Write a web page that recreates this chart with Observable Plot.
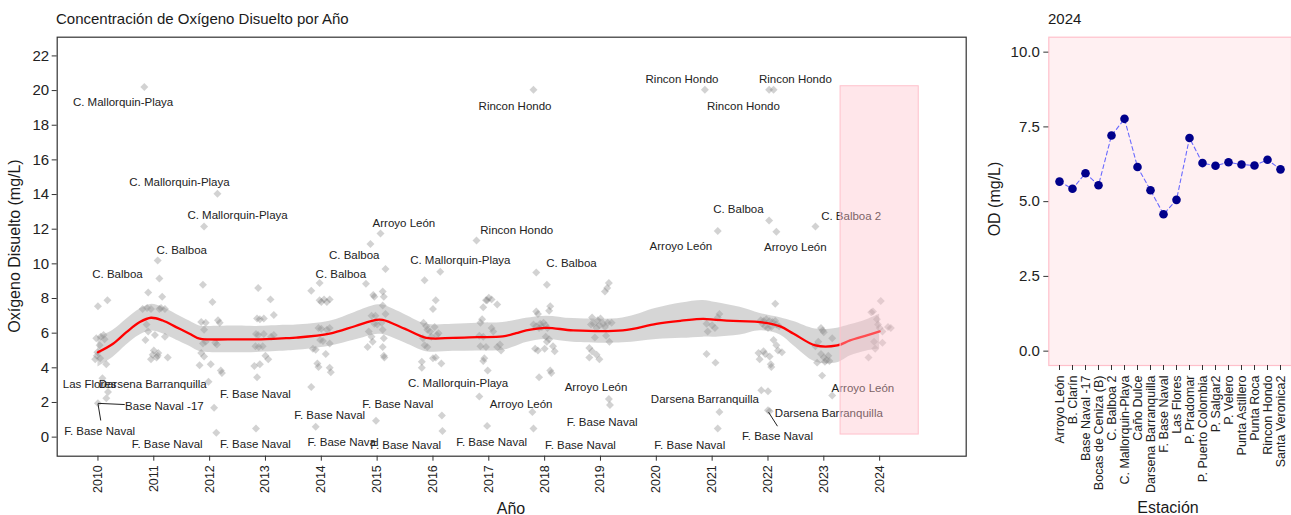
<!DOCTYPE html>
<html><head><meta charset="utf-8">
<script src="https://cdn.jsdelivr.net/npm/d3@7"></script>
<script src="https://cdn.jsdelivr.net/npm/@observablehq/plot@0.6"></script>
<style>
html,body{margin:0;padding:0;background:#fff;overflow:hidden;}
#wrap{position:relative;width:1291px;height:515px;}
#wrap svg{position:absolute;top:0;}
</style></head><body><div id="wrap"></div>
<script>
// ---------- Left panel data: jittered observations [year+jitter, OD] ----------
const p2010 = [[2010.0,7.55],[2010.17,7.9],[2009.97,5.7],[2010.05,5.8],[2010.1,5.9],[2010.12,5.65],[2009.98,4.7],[2009.95,4.5],[2010.04,4.55],[2010.03,5.3],[2010.15,4.2],[2010.08,3.4],[2010.12,3.05],[2010.18,2.6],[2010.15,2.25],[2009.99,4.9],[2010.0,1.95]];
const p2011 = [[2010.83,20.2],[2011.07,10.2],[2011.1,9.15],[2010.9,8.35],[2011.15,8.1],[2010.8,7.4],[2010.88,7.45],[2010.95,7.4],[2011.1,7.4],[2011.13,7.45],[2011.2,7.4],[2010.87,6.5],[2010.9,6.1],[2011.02,5.9],[2011.2,5.8],[2010.85,5.6],[2011.0,5.0],[2010.98,4.75],[2011.05,4.6],[2011.08,4.85],[2011.25,4.6],[2010.95,4.5],[2011.07,4.7]];
const p2012 = [[2012.14,14.05],[2011.9,12.15],[2011.88,8.8],[2012.05,7.8],[2011.85,6.65],[2011.93,6.6],[2012.15,6.75],[2012.18,6.6],[2011.9,6.2],[2011.93,5.5],[2012.1,5.45],[2012.13,5.35],[2011.88,5.4],[2011.85,4.85],[2011.9,4.65],[2012.02,4.2],[2011.82,4.15],[2012.2,3.85],[2012.22,3.7],[2011.98,3.2],[2012.08,1.7],[2012.12,0.25]];
const p2013 = [[2012.87,8.6],[2013.09,7.95],[2012.85,6.85],[2012.9,6.8],[2012.97,6.85],[2013.15,7.05],[2012.83,5.95],[2012.87,5.9],[2012.97,5.95],[2013.15,5.9],[2013.1,5.8],[2012.82,5.25],[2012.88,5.2],[2012.95,5.25],[2013.0,4.7],[2013.05,4.5],[2012.8,4.1],[2012.9,4.2],[2012.85,3.45],[2012.83,0.5]];
const p2014 = [[2013.82,8.45],[2013.97,8.9],[2013.97,7.9],[2014.0,7.8],[2014.05,7.95],[2014.15,7.95],[2014.1,7.8],[2013.95,6.3],[2014.0,6.25],[2014.1,6.2],[2014.15,6.3],[2013.98,5.6],[2014.03,5.55],[2014.15,5.4],[2013.85,5.1],[2013.9,5.05],[2014.08,4.8],[2013.93,4.25],[2013.95,4.05],[2014.15,4.0],[2014.17,3.75],[2013.82,2.9],[2013.9,0.6]];
const p2015 = [[2014.88,11.15],[2015.06,11.75],[2015.15,9.7],[2014.8,8.85],[2014.93,8.2],[2014.95,8.1],[2015.1,8.4],[2015.12,8.1],[2015.1,7.6],[2014.9,7.0],[2014.97,7.0],[2015.15,7.1],[2014.95,6.55],[2015.0,6.5],[2015.08,6.6],[2014.85,6.1],[2014.9,5.8],[2015.1,6.2],[2015.12,5.7],[2014.83,5.2],[2014.92,5.5],[2015.1,5.2],[2015.12,4.7],[2015.13,4.6],[2014.98,0.95]];
const p2016 = [[2016.13,9.55],[2015.85,9.05],[2016.05,7.9],[2016.0,7.4],[2015.83,6.6],[2015.88,6.4],[2015.9,6.2],[2015.95,6.1],[2016.03,6.35],[2016.1,6.0],[2016.07,5.9],[2015.97,5.8],[2015.82,5.7],[2015.85,5.3],[2015.9,5.2],[2016.05,4.6],[2016.0,4.55],[2015.8,4.35],[2015.8,4.0],[2016.15,4.25],[2016.16,1.25],[2016.17,0.35]];
const p2017 = [[2016.78,11.35],[2016.9,7.5],[2016.97,7.9],[2017.0,8.05],[2017.05,7.95],[2017.15,7.65],[2016.95,7.9],[2016.85,6.6],[2016.88,6.8],[2017.05,6.3],[2017.08,6.1],[2016.83,5.85],[2016.9,5.8],[2016.85,5.25],[2016.95,5.2],[2017.15,5.2],[2017.2,5.35],[2017.22,5.0],[2016.92,4.55],[2016.9,4.4],[2016.98,3.85],[2016.83,2.35],[2016.97,0.65]];
const p2018 = [[2017.8,20.05],[2017.85,9.5],[2018.04,8.8],[2018.1,7.55],[2018.08,7.3],[2017.85,7.25],[2017.88,7.1],[2017.8,6.5],[2017.85,6.4],[2017.92,6.55],[2017.98,6.6],[2018.02,6.45],[2018.05,6.3],[2017.9,6.3],[2017.95,6.35],[2018.02,5.8],[2018.08,5.65],[2018.04,5.5],[2017.83,5.1],[2017.88,5.0],[2018.0,5.1],[2018.15,5.25],[2018.18,4.95],[2018.1,3.85],[2018.12,3.7],[2017.9,3.45],[2017.78,1.45],[2017.8,0.5]];
const p2019 = [[2019.15,8.9],[2019.12,8.6],[2019.08,8.4],[2018.85,6.9],[2019.0,6.85],[2018.95,6.75],[2018.88,6.55],[2018.98,6.45],[2019.05,6.55],[2019.13,6.6],[2019.2,6.6],[2019.08,6.35],[2018.93,6.3],[2018.83,6.5],[2018.9,5.75],[2019.1,5.85],[2019.16,5.5],[2018.8,5.15],[2018.85,4.95],[2018.93,4.75],[2018.8,4.6],[2018.98,4.5],[2019.15,2.2],[2019.17,1.85]];
const p2021 = [[2020.87,20.05],[2021.1,11.9],[2021.13,7.1],[2021.1,6.9],[2020.9,6.55],[2021.0,6.45],[2020.92,6.1],[2021.05,6.3],[2020.9,4.8],[2021.06,4.3],[2021.13,1.45],[2021.1,0.5]];
const p2022 = [[2022.02,20.05],[2022.1,20.05],[2022.02,12.5],[2022.15,11.85],[2022.13,7.7],[2021.87,6.75],[2021.92,6.7],[2021.97,6.8],[2022.03,6.7],[2022.08,6.65],[2022.13,6.7],[2021.95,6.4],[2022.0,6.3],[2022.06,6.35],[2022.15,6.5],[2021.9,6.55],[2022.2,6.4],[2022.1,5.6],[2022.15,5.3],[2021.92,4.95],[2021.95,4.8],[2022.03,4.65],[2022.18,5.0],[2022.25,4.9],[2021.85,4.5],[2021.83,4.85],[2022.05,4.2],[2022.06,4.05],[2021.88,2.7],[2022.0,2.65],[2022.0,1.55],[2022.03,1.5]];
const p2023 = [[2022.85,12.15],[2022.95,6.3],[2022.98,6.15],[2023.0,6.05],[2022.85,5.25],[2022.9,5.5],[2023.15,5.7],[2022.95,4.8],[2023.0,4.6],[2023.05,4.45],[2023.1,4.4],[2022.88,4.3],[2023.02,4.35],[2022.97,3.55],[2023.15,2.4],[2023.08,4.7]];
const p2024 = [[2024.02,7.85],[2023.85,7.2],[2023.88,7.25],[2023.95,6.8],[2023.97,6.5],[2024.15,6.35],[2024.2,6.3],[2024.05,6.1],[2023.9,5.5],[2024.05,5.45],[2023.92,5.1],[2023.8,4.6],[2024.0,6.3]];

// ---------- Smooth (loess) fit with confidence band ----------
const smoothX   = [2010.0,2010.27,2010.51,2010.75,2010.95,2011.16,2011.4,2011.64,2011.82,2011.97,2012.5,2012.84,2013.37,2013.55,2014.15,2014.6,2014.98,2015.1,2015.5,2015.88,2016.36,2016.8,2017.25,2017.49,2017.67,2018.03,2018.51,2019.4,2020.0,2020.45,2020.84,2021.07,2021.5,2021.86,2022.22,2022.46,2022.85,2023.24,2023.47,2023.77,2024.0];
const smoothFit = [4.90,5.39,6.06,6.64,6.89,6.73,6.35,5.97,5.68,5.64,5.64,5.64,5.71,5.74,5.97,6.40,6.77,6.77,6.25,5.73,5.73,5.77,5.81,6.00,6.16,6.31,6.16,6.16,6.54,6.72,6.83,6.77,6.69,6.64,6.39,5.97,5.29,5.29,5.58,5.87,6.10];
const smoothLo  = [4.05,4.61,5.32,5.89,6.12,5.97,5.61,5.24,4.94,4.89,4.87,4.89,4.97,5.01,5.25,5.60,5.92,5.92,5.43,4.93,4.95,4.97,5.01,5.25,5.46,5.64,5.48,5.44,5.64,5.70,5.77,5.77,5.89,6.14,5.89,5.27,4.34,4.29,4.68,4.97,5.10];
const smoothHi  = [5.75,6.17,6.80,7.39,7.66,7.49,7.09,6.70,6.42,6.39,6.41,6.39,6.45,6.47,6.69,7.20,7.62,7.62,7.07,6.53,6.51,6.57,6.61,6.75,6.86,6.98,6.84,6.88,7.44,7.74,7.89,7.77,7.49,7.14,6.89,6.67,6.24,6.29,6.48,6.77,7.10];

// ---------- Station labels (ggrepel) ----------
const labelText = ["C. Mallorquin-Playa","C. Mallorquin-Playa","C. Mallorquin-Playa","C. Balboa","C. Balboa","Arroyo León","C. Balboa","C. Balboa","C. Mallorquin-Playa","Rincon Hondo","Rincon Hondo","C. Balboa","Rincon Hondo","Rincon Hondo","Rincon Hondo","C. Balboa","C. Balboa 2","Arroyo León","Arroyo León","Las Flores","Darsena Barranquilla","Base Naval -17","F. Base Naval","F. Base Naval","F. Base Naval","F. Base Naval","F. Base Naval","F. Base Naval","F. Base Naval","F. Base Naval","C. Mallorquin-Playa","F. Base Naval","Arroyo León","F. Base Naval","Arroyo León","F. Base Naval","Darsena Barranquilla","F. Base Naval","Darsena Barranquilla","F. Base Naval","Arroyo León"];
const labelX = [2010.45,2011.46,2012.5,2011.5,2010.35,2015.48,2014.59,2014.35,2016.49,2017.47,2017.5,2018.48,2020.46,2022.49,2021.56,2021.47,2023.49,2020.44,2022.49,2009.85,2010.98,2011.19,2010.03,2011.24,2012.82,2012.82,2014.15,2014.39,2015.37,2015.51,2016.45,2017.05,2017.58,2018.64,2018.92,2019.03,2020.87,2020.6,2023.09,2022.17,2023.7];
const labelY = [19.33,14.71,12.79,10.81,9.37,12.35,10.48,9.37,10.2,19.12,11.93,10.04,20.66,20.66,19.12,13.12,12.73,11.02,10.96,3.04,3.04,1.79,0.35,-0.44,2.5,-0.44,1.25,-0.29,1.89,-0.48,3.12,-0.29,1.89,-0.48,2.85,0.83,2.21,-0.48,1.39,0.06,2.8];
// repel segments
const segX1 = [2010.0,2010.0,2022.01], segY1 = [1.95,1.93,1.44];
const segX2 = [2010.48,2010.05,2022.17], segY2 = [1.88,0.96,0.63];

const xTicks = d3.range(2010, 2025);
const yTicks = d3.range(0, 23, 2);
const highlight = {x1: 2023.3, x2: 2024.7, y1: 0.15, y2: 20.25};

// ---------- Right panel (2024 by station) ----------
const stations = ["Arroyo León","B. Clarín","Base Naval -17","Bocas de Ceniza (B)","C. Balboa 2","C. Mallorquin-Playa","Caño Dulce","Darsena Barranquilla","F. Base Naval","Las Flores","P. Pradomar","P. Puerto Colombia","P. Salgar2","P. Velero","Punta Astillero","Punta Roca","Rincon Hondo","Santa Veronica2"];
const od2024 = [5.67,5.43,5.95,5.55,7.21,7.77,6.16,5.38,4.58,5.06,7.13,6.29,6.20,6.32,6.24,6.21,6.40,6.08];
const rightTicks = [0, 2.5, 5, 7.5, 10];

// ---------- Build ----------
const FONT = "Liberation Sans, Arial, Helvetica, sans-serif";
const points = [...p2010,...p2011,...p2012,...p2013,...p2014,...p2015,...p2016,...p2017,...p2018,...p2019,...p2021,...p2022,...p2023,...p2024].map(([x,y]) => ({x, y}));
const smooth = smoothX.map((x,i) => ({x, fit: smoothFit[i], lo: smoothLo[i], hi: smoothHi[i]}));
const labels = labelText.map((t,i) => ({t, x: labelX[i], y: labelY[i]}));
const segs = segX1.map((x1,i) => ({x1, y1: segY1[i], x2: segX2[i], y2: segY2[i]}));

const left = Plot.plot({
  width: 980, height: 515,
  marginLeft: 56.7, marginRight: 14.3, marginTop: 36.7, marginBottom: 59.3,
  style: {fontFamily: FONT, fontSize: "15px", background: "transparent", color: "#333"},
  x: {domain: [2009.27, 2025.55], label: null},
  y: {domain: [-1.1, 23.08], label: null},
  marks: [
    Plot.dot(points, {x: "x", y: "y", symbol: "diamond2", r: 3.6, fill: "#7a7a7a", fillOpacity: 0.34, stroke: "none"}),
    Plot.areaY(smooth, {x: "x", y1: "lo", y2: "hi", fill: "#999999", fillOpacity: 0.4, curve: "catmull-rom"}),
    Plot.line(smooth, {x: "x", y: "fit", stroke: "#ff0000", strokeWidth: 2.3, curve: "catmull-rom"}),
    Plot.link(segs, {x1: "x1", y1: "y1", x2: "x2", y2: "y2", stroke: "#222", strokeWidth: 1}),
    Plot.text(labels, {x: "x", y: "y", text: "t", fontSize: 11.5, fill: "#222"}),
    Plot.rect([highlight], {x1: "x1", x2: "x2", y1: "y1", y2: "y2", fill: "pink", fillOpacity: 0.4, stroke: "pink", strokeWidth: 1}),
    Plot.axisY({ticks: yTicks, tickSize: 5, tickPadding: 3, fontSize: 15, stroke: "#333", fill: "#222", label: null}),
    Plot.axisX({ticks: xTicks, tickFormat: "d", tickRotate: -90, tickSize: 5, tickPadding: 4, fontSize: 12.5, stroke: "#333", fill: "#222", label: null}),
    Plot.frame({stroke: "#333", strokeWidth: 1.2})
  ]
});
left.style.left = "0px";

const right = Plot.plot({
  width: 306, height: 515,
  marginLeft: 63.3, marginRight: 0, marginTop: 36.7, marginBottom: 150,
  style: {fontFamily: FONT, fontSize: "15px", background: "transparent", color: "#333"},
  x: {type: "point", domain: stations, padding: 0.6, label: null},
  y: {domain: [-0.48, 10.5], label: null},
  marks: [
    Plot.frame({fill: "#fff0f2", stroke: "#ffc0cb", strokeWidth: 1.2}),
    Plot.line(stations.map((s,i) => ({s, v: od2024[i]})), {x: "s", y: "v", stroke: "#6a6aff", strokeWidth: 1.1, strokeDasharray: "4,3"}),
    Plot.dot(stations.map((s,i) => ({s, v: od2024[i]})), {x: "s", y: "v", r: 4.3, fill: "#00008b"}),
    Plot.axisY({ticks: rightTicks, tickFormat: d => d.toFixed(1), tickSize: 5, tickPadding: 4, fontSize: 15, stroke: "#333", fill: "#222", label: null}),
    Plot.axisX({tickRotate: -90, tickSize: 5, tickPadding: 5, fontSize: 12.5, stroke: "#333", fill: "#222", label: null})
  ]
});
right.style.left = "985px";

const wrap = document.getElementById("wrap");
wrap.appendChild(left);
wrap.appendChild(right);

// titles overlay
const ov = d3.select(wrap).append("svg").attr("width", 1291).attr("height", 515)
  .style("left", "0px").style("pointer-events", "none")
  .style("font-family", FONT).attr("fill", "#1a1a1a");
ov.append("text").attr("x", 56).attr("y", 23.5).attr("font-size", 15).text("Concentración de Oxígeno Disuelto por Año");
ov.append("text").attr("x", 1048).attr("y", 23.5).attr("font-size", 15).text("2024");
ov.append("text").attr("transform", "translate(20,246) rotate(-90)").attr("text-anchor", "middle").attr("font-size", 16).text("Oxígeno Disuelto (mg/L)");
ov.append("text").attr("x", 511).attr("y", 513.5).attr("text-anchor", "middle").attr("font-size", 16).text("Año");
ov.append("text").attr("transform", "translate(1000,199) rotate(-90)").attr("text-anchor", "middle").attr("font-size", 16).text("OD (mg/L)");
ov.append("text").attr("x", 1168).attr("y", 513).attr("text-anchor", "middle").attr("font-size", 16).text("Estación");
</script></body></html>
